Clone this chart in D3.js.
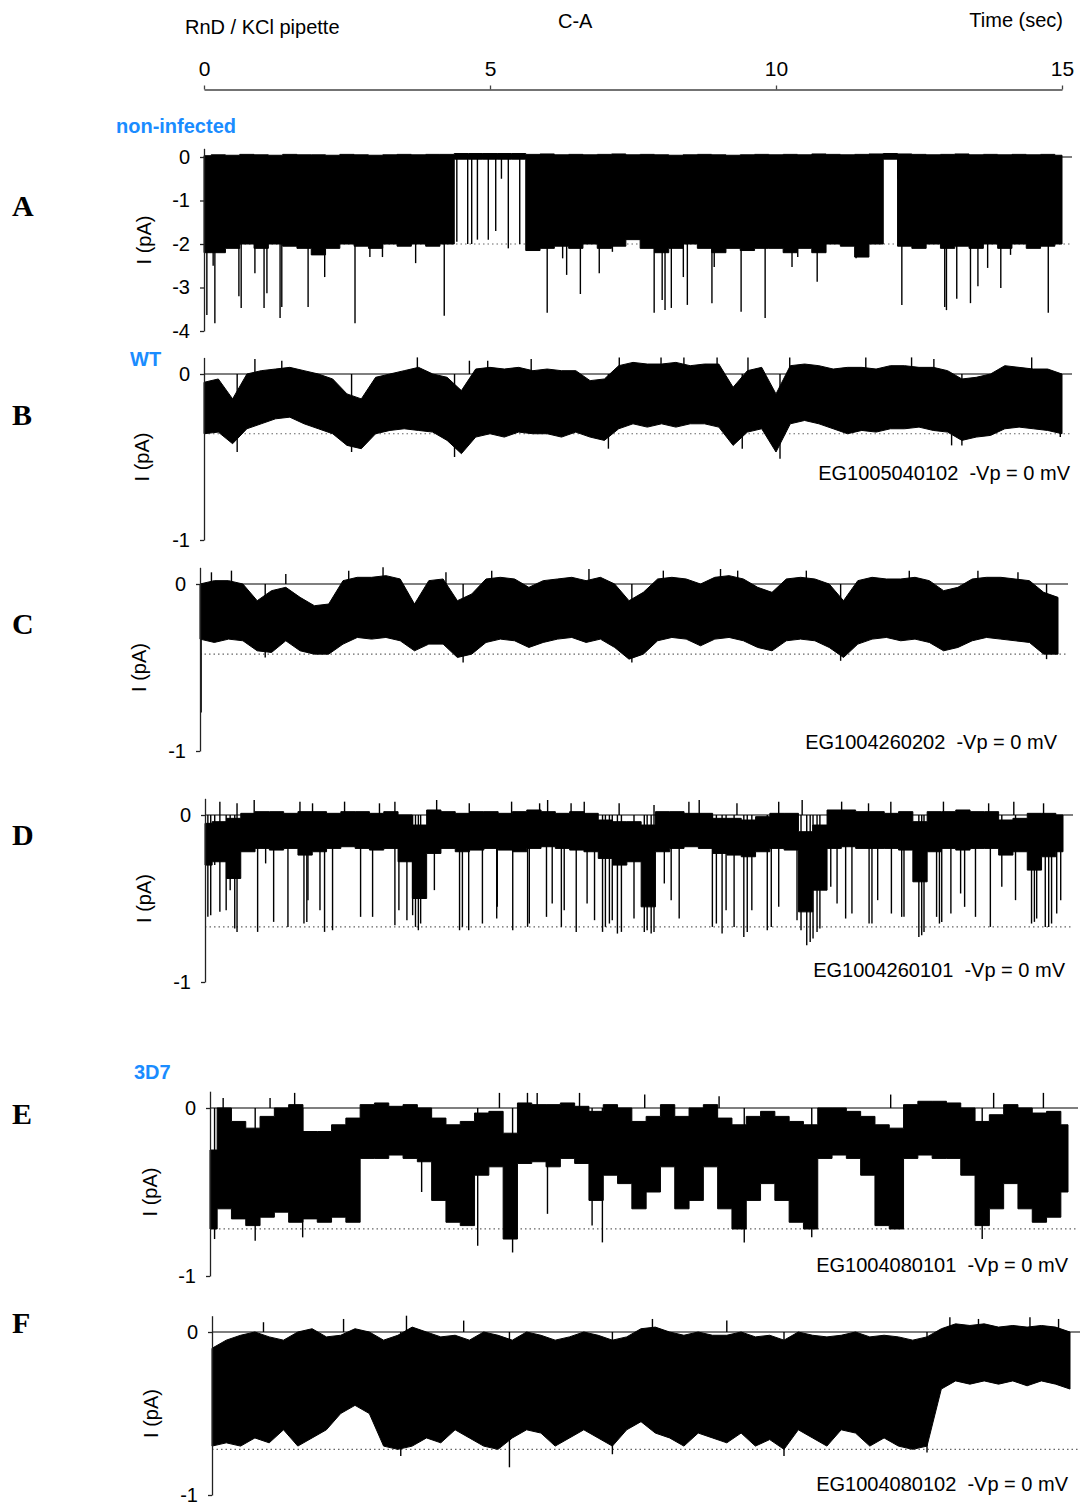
<!DOCTYPE html>
<html>
<head>
<meta charset="utf-8">
<script src="https://cdn.jsdelivr.net/npm/d3@7"></script>
<style>
  body { margin: 0; background: #fff; }
  text { font-family: "Liberation Sans", Arial, sans-serif; }
</style>
</head>
<body>
<div id="chart"></div>
<script>
// Single-channel recordings, 15 s each. Every trace is read off the figure as
// an envelope (top / bottom of the dense noise, one sample every 0.25 s)
// plus a list of the single spikes that stick out of it.

let svgWidth = 1081;
let svgHeight = 1506;

const binStep = 0.25;          // seconds between envelope samples
const timeTicks = [0, 5, 10, 15];

// ---- A : non-infected ----
const aUpper = [0.03,0.05,0.04,0.06,0.05,0.04,0.06,0.05,0.05,0.04,
                0.06,0.05,0.04,0.05,0.06,0.05,0.06,0.06,0.08,0.08,
                0.08,0.08,0.08,0.06,0.07,0.05,0.06,0.05,0.06,0.07,
                0.05,0.06,0.05,0.04,0.05,0.06,0.05,0.04,0.05,0.06,
                0.05,0.06,0.05,0.07,0.06,0.05,0.06,0.07,0.08,0.07,
                0.06,0.05,0.06,0.07,0.05,0.06,0.05,0.06,0.05,0.06,
                0.04];
const aLower = [-2.2,-2.2,-2.1,-2.0,-2.1,-2.0,-2.05,-2.1,-2.25,-2.1,
                -2.0,-2.05,-2.1,-2.0,-2.05,-2.0,-2.05,-2.0,-0.05,-0.05,
                -0.05,-0.05,-0.05,-2.15,-2.1,-2.05,-2.1,-2.0,-2.1,-2.05,
                -1.9,-2.1,-2.2,-2.1,-2.0,-2.1,-2.2,-2.1,-2.15,-2.1,
                -2.1,-2.2,-2.1,-2.2,-2.0,-2.05,-2.3,-2.0,-0.05,-2.05,
                -2.1,-2.0,-2.1,-2.05,-2.1,-2.0,-2.1,-2.0,-2.1,-2.05,
                -2.0];
const aSpikes = [[0.05,-3.63],[0.16,-2.5],[0.19,-3.82],[0.61,-3.2],[0.65,-3.47],[0.89,-2.67],
                 [1.05,-3.47],[1.1,-3.13],[1.33,-3.7],[1.36,-3.45],[1.82,-3.45],[2.11,-2.76],
                 [2.64,-3.82],[2.9,-2.3],[3.12,-2.3],[3.7,-2.44],[4.2,-3.65],[4.42,-1.95],
                 [4.61,-2.0],[4.68,-2.0],[4.78,-1.9],[4.97,-1.9],[5.1,-1.7],[5.2,-0.5],
                 [5.32,-2.1],[5.52,-2.0],[6.0,-3.58],[6.27,-2.33],[6.34,-2.71],[6.58,-3.15],
                 [6.91,-2.67],[7.14,-2.18],[7.87,-3.58],[8.01,-3.29],[8.06,-3.52],[8.17,-3.47],
                 [8.38,-2.76],[8.45,-3.4],[8.88,-3.36],[8.92,-2.53],[9.39,-3.56],[9.81,-3.7],
                 [10.28,-2.53],[10.38,-2.3],[10.72,-2.87],[11.4,-2.33],[12.13,-0.5],[12.2,-3.4],
                 [12.95,-3.45],[12.98,-3.52],[13.16,-3.26],[13.4,-3.36],[13.53,-2.97],[13.7,-2.55],
                 [13.93,-3.01],[14.1,-2.25],[14.76,-3.58]];

// ---- B : WT ----
const bUpper = [-0.05,-0.03,-0.15,0.0,0.02,0.03,0.04,0.02,0.0,-0.03,
                -0.12,-0.15,-0.02,0.0,0.02,0.04,0.0,-0.02,-0.1,0.03,
                0.04,0.03,0.04,0.02,0.03,0.02,0.02,-0.04,-0.03,0.05,
                0.07,0.06,0.06,0.07,0.05,0.06,0.06,-0.08,0.02,0.04,
                -0.12,0.05,0.06,0.05,0.03,0.04,0.04,0.03,0.05,0.05,
                0.04,0.04,0.02,-0.03,-0.02,0.0,0.05,0.04,0.03,0.03,
                0.0];
const bLower = [-0.36,-0.35,-0.42,-0.33,-0.3,-0.27,-0.26,-0.3,-0.33,-0.36,
                -0.43,-0.45,-0.36,-0.34,-0.33,-0.34,-0.35,-0.4,-0.48,-0.38,
                -0.36,-0.38,-0.35,-0.36,-0.36,-0.38,-0.35,-0.38,-0.4,-0.33,
                -0.3,-0.32,-0.3,-0.32,-0.3,-0.3,-0.32,-0.43,-0.35,-0.33,
                -0.47,-0.3,-0.28,-0.3,-0.33,-0.36,-0.34,-0.35,-0.33,-0.33,
                -0.32,-0.34,-0.35,-0.4,-0.38,-0.37,-0.33,-0.32,-0.33,-0.34,
                -0.36];
const bSpikes = [[0.58,-0.47],[2.58,-0.47],[4.38,-0.5],[7.07,-0.45],[9.41,-0.45],[10.07,-0.51],
                 [13.07,-0.43],[13.25,-0.43],[14.97,-0.38],
                 [0.89,0.09],[1.36,0.08],[3.73,0.1],[4.64,0.08],[4.96,0.08],[5.72,0.09],
                 [7.26,0.1],[7.99,0.1],[8.39,0.1],[8.97,0.1],[9.51,0.1],[10.24,0.1],
                 [11.57,0.1],[12.37,0.1],[12.76,0.09],[14.47,0.1]];

// ---- C ----
const cUpper = [0.0,0.02,0.02,0.0,-0.1,-0.04,-0.02,-0.08,-0.13,-0.12,
                0.02,0.04,0.04,0.05,0.03,-0.12,0.02,0.03,-0.1,-0.06,
                0.03,0.04,0.03,-0.02,0.02,0.03,0.04,0.02,0.04,0.0,
                -0.1,-0.05,0.03,0.04,0.03,0.0,0.04,0.05,0.03,-0.02,
                -0.05,0.03,0.04,0.03,0.0,-0.1,0.02,0.04,0.03,0.03,
                0.04,0.02,-0.04,-0.02,0.03,0.04,0.04,0.03,0.02,-0.05,
                -0.08];
const cLower = [-0.33,-0.35,-0.33,-0.34,-0.4,-0.41,-0.34,-0.4,-0.42,-0.42,
                -0.36,-0.32,-0.33,-0.32,-0.34,-0.4,-0.36,-0.36,-0.44,-0.42,
                -0.35,-0.33,-0.34,-0.38,-0.35,-0.33,-0.32,-0.35,-0.33,-0.38,
                -0.45,-0.42,-0.34,-0.32,-0.33,-0.37,-0.33,-0.32,-0.34,-0.38,
                -0.4,-0.34,-0.33,-0.34,-0.38,-0.44,-0.36,-0.33,-0.32,-0.34,
                -0.33,-0.35,-0.4,-0.38,-0.34,-0.32,-0.33,-0.34,-0.35,-0.42,
                -0.42];
const cSpikes = [[0.02,-0.77],[1.14,-0.44],[4.6,-0.47],[7.55,-0.47],[11.2,-0.46],[14.8,-0.45],
                 [0.2,0.07],[0.55,0.08],[1.5,0.06],[2.6,0.08],[3.2,0.1],[4.3,0.07],
                 [5.1,0.08],[6.8,0.09],[8.1,0.08],[9.1,0.09],[9.4,0.08],[10.6,0.08],
                 [12.4,0.08],[13.6,0.08],[14.3,0.07]];

// ---- D ----
const dUpper = [-0.05,-0.04,-0.02,0.01,0.02,0.02,0.01,0.02,0.02,0.01,
                0.02,0.02,0.01,0.02,0.0,-0.06,0.03,0.02,0.01,0.02,
                0.02,0.01,0.02,0.03,0.02,0.01,0.02,0.01,-0.03,-0.04,
                -0.04,-0.06,0.02,0.02,0.01,0.01,-0.02,-0.02,-0.03,-0.01,
                0.01,0.01,-0.1,-0.06,0.03,0.03,0.02,0.02,0.01,0.02,
                -0.04,0.02,0.02,0.03,0.02,0.02,-0.03,-0.02,0.01,0.01,
                0.0];
const dLower = [-0.3,-0.28,-0.38,-0.22,-0.2,-0.21,-0.2,-0.24,-0.22,-0.2,
                -0.19,-0.2,-0.21,-0.2,-0.28,-0.5,-0.23,-0.2,-0.22,-0.21,
                -0.2,-0.21,-0.22,-0.2,-0.19,-0.2,-0.21,-0.22,-0.26,-0.3,
                -0.28,-0.55,-0.22,-0.2,-0.19,-0.2,-0.23,-0.24,-0.25,-0.22,
                -0.2,-0.21,-0.58,-0.45,-0.2,-0.19,-0.2,-0.2,-0.2,-0.21,
                -0.4,-0.22,-0.2,-0.21,-0.2,-0.2,-0.24,-0.22,-0.33,-0.25,
                -0.22];
const dSpikes = [[0.05,-0.61],[0.1,-0.6],[0.17,-0.3],[0.26,-0.58],[0.37,-0.57],[0.44,-0.45],
                 [0.52,-0.68],[0.56,-0.7],[0.92,-0.7],[1.06,-0.29],[1.2,-0.64],[1.45,-0.67],
                 [1.73,-0.65],[1.78,-0.64],[1.8,-0.51],[2.01,-0.57],[2.09,-0.7],[2.23,-0.69],
                 [2.72,-0.61],[2.93,-0.61],[3.32,-0.66],[3.39,-0.57],[3.53,-0.63],[3.63,-0.6],
                 [3.68,-0.67],[3.73,-0.69],[3.77,-0.65],[4.01,-0.45],[4.45,-0.69],[4.5,-0.67],
                 [4.61,-0.69],[4.85,-0.65],[5.1,-0.62],[5.11,-0.55],[5.38,-0.69],[5.64,-0.67],
                 [5.67,-0.65],[5.97,-0.61],[6.07,-0.53],[6.23,-0.67],[6.28,-0.57],[6.49,-0.7],
                 [6.68,-0.53],[6.81,-0.63],[6.95,-0.7],[7.0,-0.67],[7.07,-0.65],[7.12,-0.63],
                 [7.21,-0.71],[7.28,-0.7],[7.5,-0.62],[7.68,-0.7],[7.73,-0.69],[7.8,-0.71],
                 [7.85,-0.7],[8.03,-0.41],[8.15,-0.51],[8.29,-0.62],[8.87,-0.67],[8.94,-0.65],
                 [9.04,-0.71],[9.11,-0.57],[9.25,-0.67],[9.42,-0.73],[9.48,-0.7],[9.56,-0.57],
                 [9.83,-0.69],[9.9,-0.67],[10.03,-0.55],[10.35,-0.63],[10.42,-0.69],[10.52,-0.78],
                 [10.58,-0.76],[10.63,-0.74],[10.7,-0.7],[10.75,-0.68],[10.94,-0.43],[11.05,-0.53],
                 [11.2,-0.62],[11.31,-0.59],[11.61,-0.65],[11.66,-0.65],[11.76,-0.51],[12.0,-0.59],
                 [12.18,-0.61],[12.22,-0.61],[12.48,-0.73],[12.53,-0.72],[12.57,-0.7],[12.79,-0.61],
                 [12.84,-0.65],[12.88,-0.64],[13.04,-0.59],[13.21,-0.47],[13.28,-0.55],[13.47,-0.61],
                 [13.73,-0.67],[13.93,-0.43],[14.17,-0.51],[14.45,-0.65],[14.5,-0.64],[14.54,-0.62],
                 [14.69,-0.67],[14.75,-0.67],[14.8,-0.65],[14.89,-0.59],[14.96,-0.51],
                 [0.26,0.08],[0.56,0.07],[0.86,0.09],[1.66,0.08],[1.88,0.07],[2.44,0.08],
                 [3.05,0.07],[3.32,0.08],[4.05,0.09],[4.62,0.07],[5.36,0.08],[5.85,0.07],
                 [5.99,0.09],[6.4,0.07],[6.63,0.08],[7.24,0.07],[7.85,0.06],[8.46,0.08],
                 [8.64,0.09],[9.3,0.07],[10.03,0.08],[10.44,0.09],[11.13,0.08],[11.6,0.07],
                 [11.99,0.08],[12.91,0.08],[13.7,0.07],[14.14,0.08],[14.66,0.07]];

// ---- E : 3D7 ----
const eUpper = [-0.25,0.0,-0.08,-0.12,-0.05,0.0,0.02,-0.14,-0.14,-0.1,
                -0.06,0.02,0.03,0.01,0.02,0.0,-0.06,-0.1,-0.08,-0.03,
                -0.02,-0.15,0.03,0.02,0.02,0.03,0.01,-0.02,0.02,0.0,
                -0.08,-0.05,0.02,-0.05,0.0,0.02,-0.06,-0.1,-0.05,-0.02,
                -0.05,-0.08,-0.1,0.0,0.0,-0.02,-0.05,-0.1,-0.12,0.02,
                0.04,0.04,0.03,0.0,-0.08,-0.04,0.02,0.0,-0.03,-0.02,
                -0.1];
const eLower = [-0.72,-0.6,-0.66,-0.7,-0.65,-0.62,-0.68,-0.66,-0.68,-0.65,
                -0.68,-0.3,-0.3,-0.28,-0.3,-0.32,-0.55,-0.68,-0.7,-0.4,
                -0.35,-0.78,-0.33,-0.32,-0.35,-0.3,-0.33,-0.55,-0.4,-0.45,
                -0.6,-0.5,-0.35,-0.6,-0.55,-0.35,-0.6,-0.72,-0.55,-0.45,
                -0.55,-0.68,-0.72,-0.3,-0.28,-0.3,-0.4,-0.7,-0.72,-0.3,
                -0.28,-0.3,-0.3,-0.4,-0.7,-0.6,-0.45,-0.6,-0.68,-0.65,
                -0.5];
const eSpikes = [[0.08,-0.78],[0.79,-0.79],[1.62,-0.77],[3.7,-0.5],[4.68,-0.82],[5.29,-0.86],
                 [5.9,-0.63],[6.68,-0.7],[6.86,-0.8],[9.34,-0.8],[10.52,-0.77],[13.5,-0.78],
                 [0.23,0.06],[1.05,0.06],[1.48,0.09],[5.06,0.09],[5.55,0.09],[5.72,0.09],
                 [6.46,0.09],[7.6,0.08],[8.9,0.07],[11.9,0.08],[13.7,0.09],[14.57,0.09]];

// ---- F : 3D7 ----
const fUpper = [-0.1,-0.05,-0.02,0.0,-0.03,-0.05,0.0,0.02,-0.03,-0.02,
                0.02,0.0,-0.05,-0.02,0.03,0.0,-0.03,-0.02,-0.05,0.0,
                -0.02,-0.05,0.0,-0.02,-0.05,-0.03,0.0,-0.02,-0.05,-0.03,
                0.02,0.03,0.0,-0.02,0.0,-0.02,-0.02,0.0,-0.03,-0.02,
                -0.05,0.0,-0.02,-0.03,-0.02,0.0,-0.03,-0.02,-0.03,-0.05,
                -0.03,0.02,0.05,0.04,0.05,0.03,0.04,0.03,0.04,0.03,
                0.0];
const fLower = [-0.7,-0.68,-0.7,-0.65,-0.68,-0.6,-0.7,-0.65,-0.6,-0.5,
                -0.45,-0.5,-0.7,-0.72,-0.7,-0.65,-0.68,-0.6,-0.65,-0.7,
                -0.72,-0.65,-0.6,-0.62,-0.7,-0.65,-0.6,-0.65,-0.7,-0.6,
                -0.55,-0.62,-0.65,-0.7,-0.62,-0.65,-0.68,-0.62,-0.7,-0.66,
                -0.72,-0.6,-0.65,-0.7,-0.6,-0.62,-0.7,-0.65,-0.7,-0.72,
                -0.7,-0.35,-0.3,-0.32,-0.3,-0.32,-0.3,-0.33,-0.3,-0.32,
                -0.35];
const fSpikes = [[5.2,-0.83],[3.3,-0.76],[7.0,-0.75],[10.0,-0.76],[12.5,-0.74],
                 [0.9,0.06],[2.3,0.08],[3.4,0.1],[4.4,0.07],[7.7,0.08],[9.0,0.07],
                 [12.9,0.09],[13.4,0.08],[14.3,0.09],[14.8,0.08]];

const panels = [
  { letter: "A", upper: aUpper, lower: aLower, spikes: aSpikes, ticks: [0,-1,-2,-3,-4],
    bottom: -4, top: 0.2, dotted: -2.0, group: "non-infected", note: null, curve: d3.curveStep,
    x0: 204, zeroY: 157, ppa: 43.5, letterY: 216, labelX: 151, groupPos: [116, 133] },
  { letter: "B", upper: bUpper, lower: bLower, spikes: bSpikes, ticks: [0,-1],
    bottom: -1, top: 0.1, dotted: -0.36, group: "WT", note: "EG1005040102  -Vp = 0 mV", curve: d3.curveLinear,
    x0: 204, zeroY: 374, ppa: 166, letterY: 425, labelX: 149, groupPos: [130, 366], notePos: [1070, 480] },
  { letter: "C", upper: cUpper, lower: cLower, spikes: cSpikes, ticks: [0,-1],
    bottom: -1, top: 0.1, dotted: -0.42, group: null, note: "EG1004260202  -Vp = 0 mV", curve: d3.curveLinear,
    x0: 200, zeroY: 584, ppa: 167, letterY: 634, labelX: 146, notePos: [1057, 749] },
  { letter: "D", upper: dUpper, lower: dLower, spikes: dSpikes, ticks: [0,-1],
    bottom: -1, top: 0.1, dotted: -0.67, group: null, note: "EG1004260101  -Vp = 0 mV", curve: d3.curveStep,
    x0: 205, zeroY: 815, ppa: 167, letterY: 845, labelX: 151, notePos: [1065, 977] },
  { letter: "E", upper: eUpper, lower: eLower, spikes: eSpikes, ticks: [0,-1],
    bottom: -1, top: 0.1, dotted: -0.72, group: "3D7", note: "EG1004080101  -Vp = 0 mV", curve: d3.curveStep,
    x0: 210, zeroY: 1108, ppa: 168, letterY: 1124, labelX: 157, groupPos: [134, 1079], notePos: [1068, 1272] },
  { letter: "F", upper: fUpper, lower: fLower, spikes: fSpikes, ticks: [0,-1],
    bottom: -1, top: 0.1, dotted: -0.72, group: null, note: "EG1004080102  -Vp = 0 mV", curve: d3.curveLinear,
    x0: 212, zeroY: 1332, ppa: 163, letterY: 1333, labelX: 158, notePos: [1068, 1491] }
];

const traceWidth = 858;   // px covered by 15 s

let svg = d3.select("#chart")
  .append("svg")
  .attr("width", svgWidth)
  .attr("height", svgHeight);

// header
svg.append("text").attr("x", 185).attr("y", 34).attr("font-size", 20).text("RnD / KCl pipette");
svg.append("text").attr("x", 558).attr("y", 28).attr("font-size", 20).text("C-A");
svg.append("text").attr("x", 1063).attr("y", 27).attr("font-size", 20)
  .attr("text-anchor", "end").text("Time (sec)");

let topScale = d3.scaleLinear().domain([0, 15]).range([204, 204 + traceWidth]);
let topAxis = svg.append("g")
  .attr("transform", "translate(0, 89.5)")
  .call(d3.axisTop(topScale).tickValues(timeTicks).tickSize(4).tickSizeOuter(0).tickPadding(10));
topAxis.selectAll("text").attr("font-size", 21).attr("font-family", "Liberation Sans, Arial, sans-serif").attr("fill", "#000");
topAxis.selectAll("line, path").attr("stroke", "#444").attr("stroke-width", 1.3);

panels.forEach(p => {
  let x = d3.scaleLinear().domain([0, 15]).range([p.x0, p.x0 + traceWidth]);
  let y = d3.scaleLinear().domain([0, -1]).range([p.zeroY, p.zeroY + p.ppa]);
  let g = svg.append("g");

  // dotted reference level and zero line
  g.append("line")
    .attr("x1", p.x0).attr("x2", p.x0 + 866)
    .attr("y1", y(p.dotted)).attr("y2", y(p.dotted))
    .attr("stroke", "#666").attr("stroke-width", 1.2).attr("stroke-dasharray", "1.5,3");
  g.append("line")
    .attr("x1", p.x0).attr("x2", p.x0 + 868)
    .attr("y1", y(0)).attr("y2", y(0))
    .attr("stroke", "#555").attr("stroke-width", 1.6);

  // trace envelope
  let env = p.upper.map((u, i) => ({ t: i * binStep, up: u, lo: p.lower[i] }));
  let area = d3.area()
    .curve(p.curve)
    .x(d => x(d.t))
    .y0(d => y(d.lo))
    .y1(d => y(d.up));
  g.append("path")
    .datum(env)
    .attr("d", area)
    .attr("fill", "#000")
    .attr("stroke", "#000")
    .attr("stroke-width", 1);

  // spikes
  g.selectAll(".spike")
    .data(p.spikes)
    .enter()
    .append("line")
    .attr("class", "spike")
    .attr("x1", d => x(d[0])).attr("x2", d => x(d[0]))
    .attr("y1", y(0)).attr("y2", d => y(d[1]))
    .attr("stroke", "#000").attr("stroke-width", 1.4);

  // y axis
  let yAxisScale = d3.scaleLinear().domain([p.bottom, p.top])
    .range([y(p.bottom), y(p.top)]);
  let ax = g.append("g")
    .attr("transform", `translate(${p.x0}, 0)`)
    .call(d3.axisLeft(yAxisScale).tickValues(p.ticks).tickSize(4).tickSizeOuter(0)
      .tickPadding(10).tickFormat(d => String(d)));
  ax.selectAll("text").attr("font-size", 20).attr("font-family", "Liberation Sans, Arial, sans-serif").attr("fill", "#000");
  ax.selectAll("line, path").attr("stroke", "#222").attr("stroke-width", 1.3);

  // labels
  g.append("text")
    .attr("transform", `translate(${p.labelX}, ${(y(0) + y(p.bottom)) / 2 + (p.letter === "A" ? -4 : 0)}) rotate(-90)`)
    .attr("text-anchor", "middle").attr("font-size", 20)
    .text("I (pA)");

  g.append("text")
    .attr("x", 12).attr("y", p.letterY)
    .attr("font-weight", "bold").attr("font-size", 30)
    .style("font-family", "'Liberation Serif', serif")
    .text(p.letter);

  if (p.group) {
    g.append("text")
      .attr("x", p.groupPos[0]).attr("y", p.groupPos[1])
      .attr("font-size", 20).attr("font-weight", "bold").attr("fill", "#1a8cff")
      .text(p.group);
  }
  if (p.note) {
    g.append("text")
      .attr("x", p.notePos[0]).attr("y", p.notePos[1])
      .attr("text-anchor", "end").attr("font-size", 20)
      .style("white-space", "pre")
      .text(p.note);
  }
});
</script>
</body>
</html>
